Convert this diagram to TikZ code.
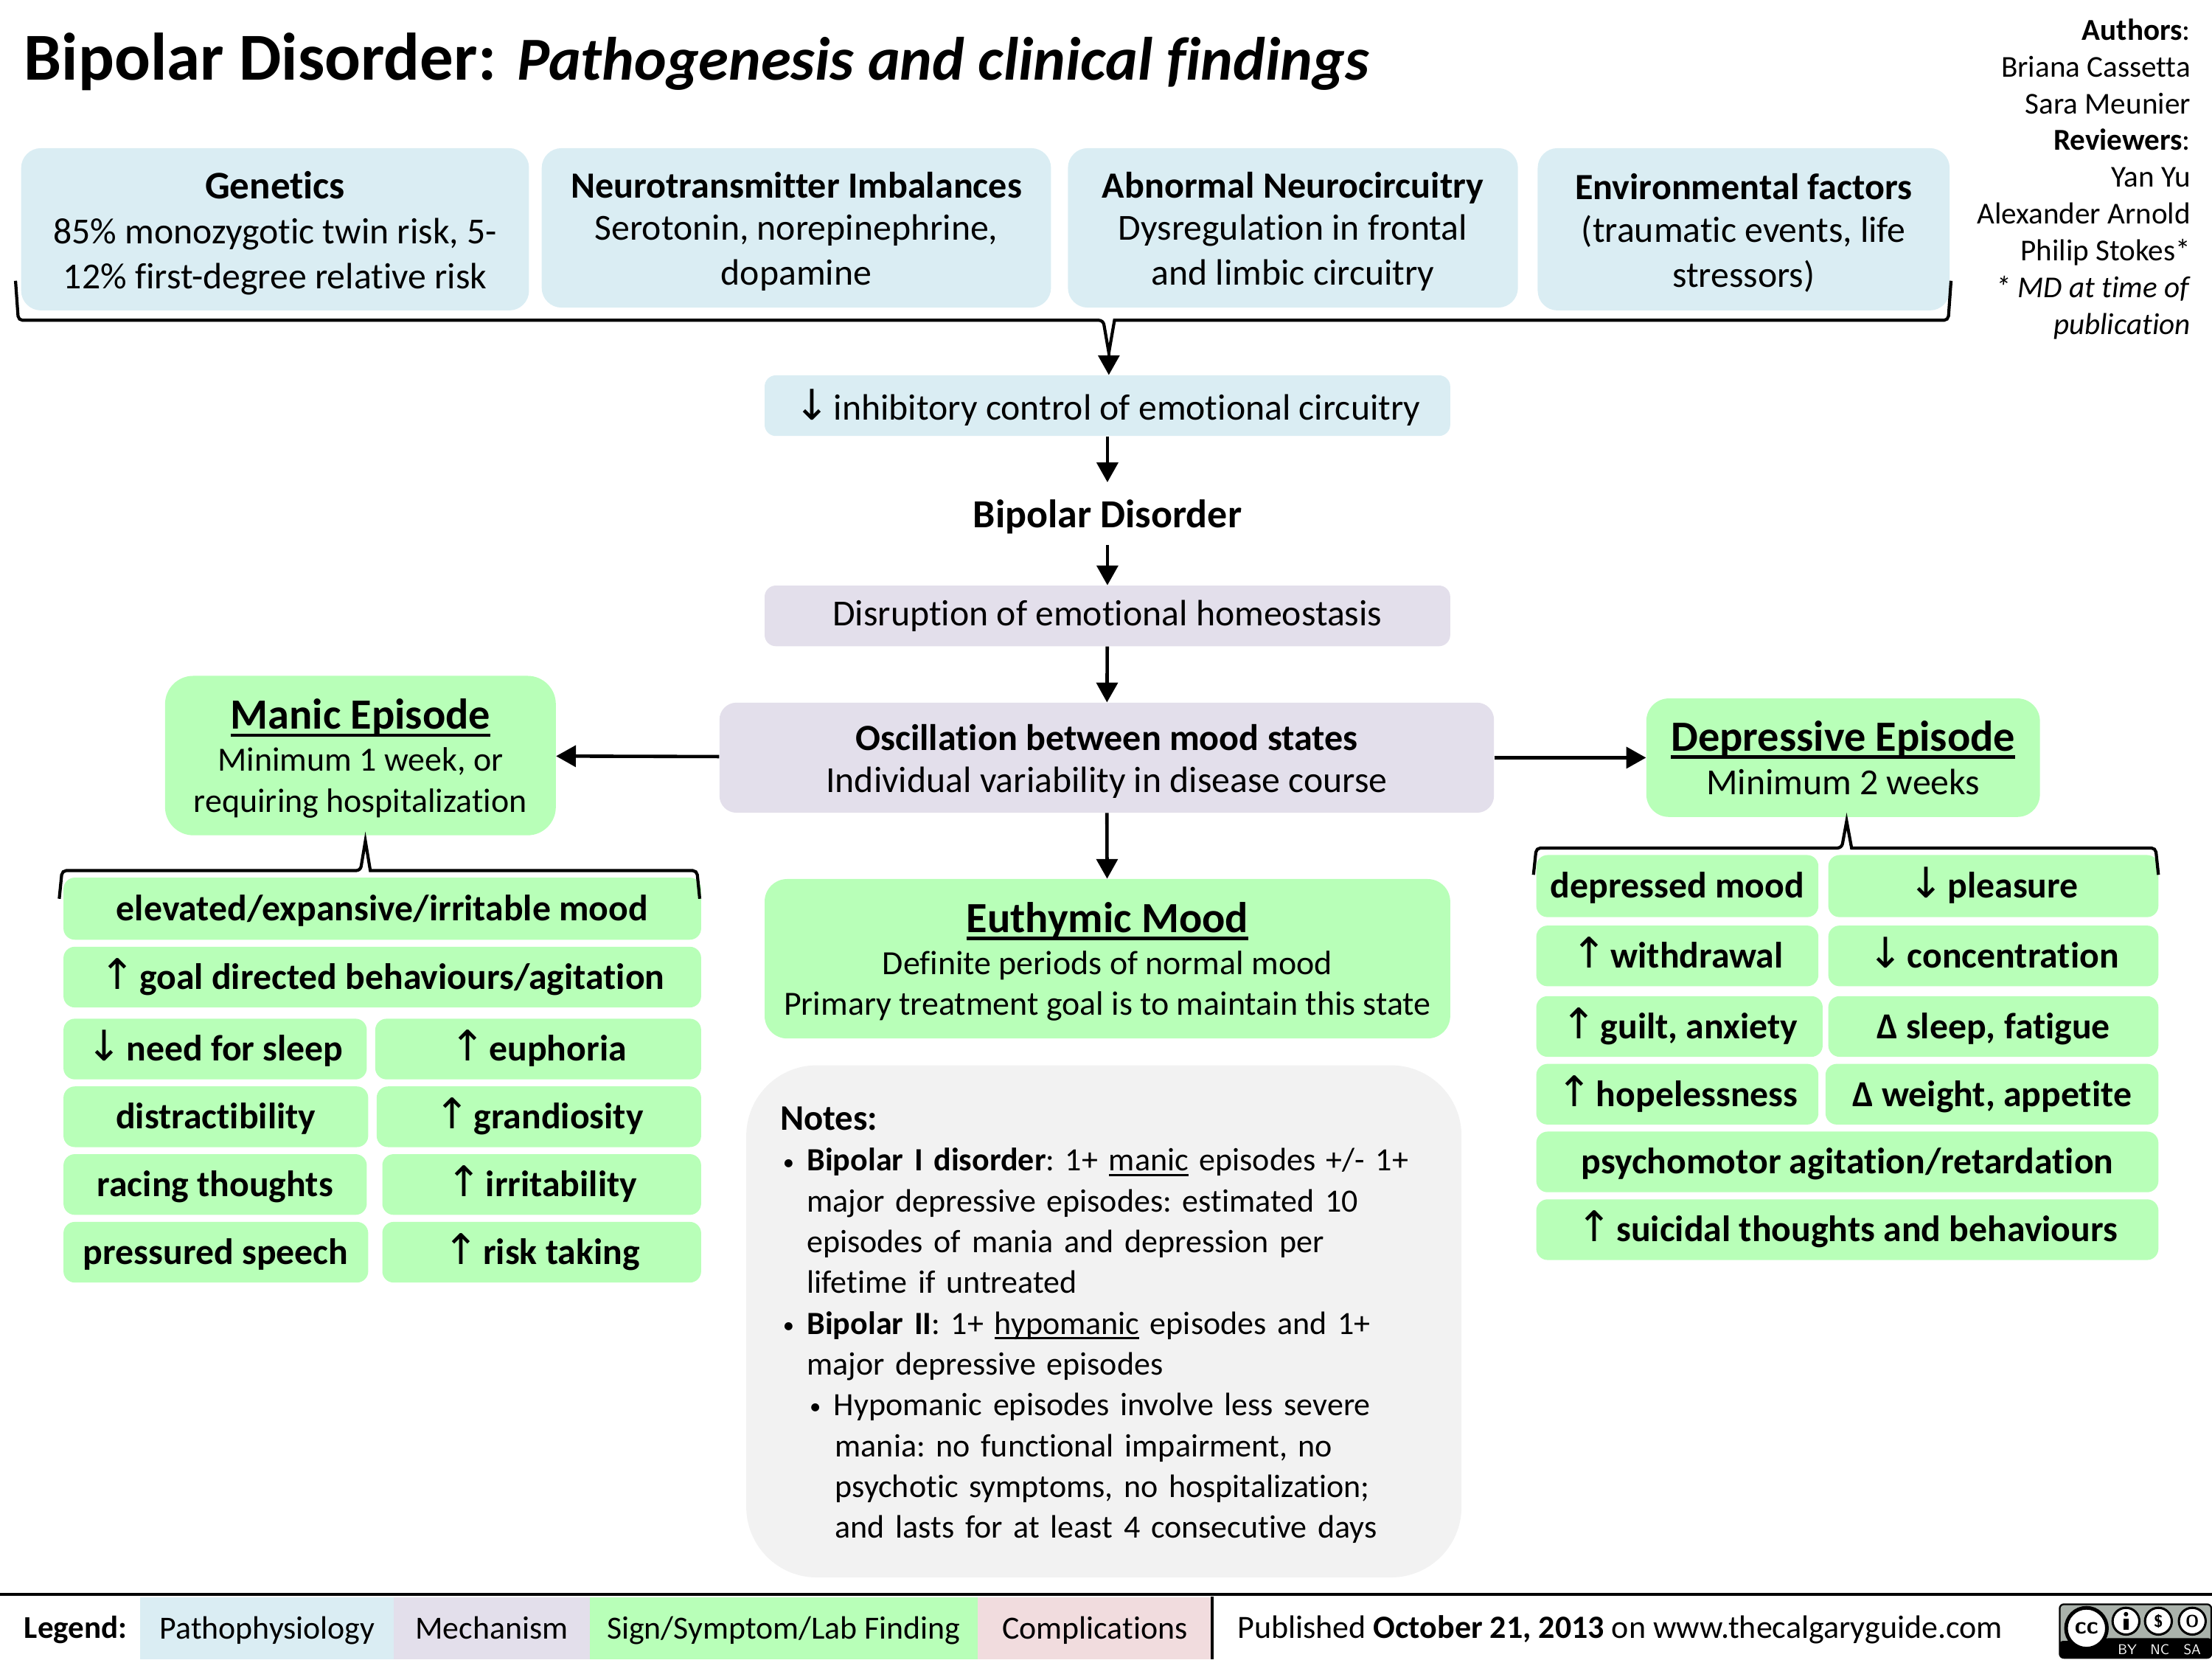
\documentclass[tikz,border=0pt]{standalone}
\usepackage{fontspec}
\setmainfont[Ligatures=NoCommon]{Carlito}
\newfontfamily\arrowfont[Scale=1.15]{DejaVu Sans}
\frenchspacing
\usetikzlibrary{arrows.meta}
\usetikzlibrary{positioning}
\definecolor{pathoblue}{HTML}{DAEDF3}
\definecolor{mechpurple}{HTML}{E3DFEB}
\definecolor{signgreen}{HTML}{B8FFB8}
\definecolor{comppink}{HTML}{F1DCDE}
\definecolor{notegray}{HTML}{F2F2F2}
\definecolor{ccgray}{HTML}{AAB2AB}
\newcommand{\uparr}{{\arrowfont\mdseries ↑}\hspace{-3pt}}
\newcommand{\downarr}{{\arrowfont\mdseries ↓}\hspace{-3pt}}
\newcommand{\hdsmall}[1]{{\fontsize{26.2}{32}\selectfont\bfseries\rule{0pt}{23.5pt}#1}}
\newcommand{\thickul}[2]{\setbox0\hbox{#1}\rlap{\rule[-#2]{\wd0}{2.4pt}}\box0\relax}
\newcommand{\thinul}[1]{\setbox0\hbox{#1}\rlap{\rule[-3.5pt]{\wd0}{1.3pt}}\box0\relax}
\newcommand{\hdbig}[1]{{\fontsize{30.5}{32}\selectfont\bfseries\thickul{#1}{5.5pt}}}
\newcommand{\noteitem}{\makebox[19pt][l]{\hspace*{2pt}\raisebox{1pt}{\fontsize{16}{16}\selectfont\textbullet}}}
\newcommand{\notesub}{\hspace*{19pt}\noteitem}
\tikzset{
	wh/.style 2 args={minimum width=#1,minimum height=#2},
	boxbase/.style={rounded corners=14,inner sep=0,align=center,font=\fontsize{26}{32}\selectfont},
	patho/.style={boxbase,fill=pathoblue},
	mech/.style={boxbase,fill=mechpurple},
	sign/.style={boxbase,fill=signgreen,font=\fontsize{24}{29}\selectfont},
	symptom/.style={inner sep=0,rounded corners=8,fill=signgreen,text height=24pt,text depth=7pt,font=\fontsize{26}{30}\selectfont\bfseries},
	legendbox/.style={inner sep=0,minimum height=44,text height=22pt,text depth=7pt,font=\fontsize{22.9}{28}\selectfont},
	arr/.style={line width=2.4,-{Triangle[length=14pt,width=15pt]}},
	bracket/.style={line width=2.2,rounded corners=3},
	cctext/.style={inner sep=0,text=white,font=\sffamily\fontsize{10}{10}\selectfont}
}
\begin{document}
\begin{tikzpicture}[x=1pt,y=-1pt]
		\useasboundingbox (0,0) rectangle (1568,1176);
		\node [anchor=west,inner sep=0,font=\fontsize{47.6}{50}\selectfont\bfseries] (title) at (17,44) {Bipolar Disorder:\hspace{4pt} {\fontsize{43.3}{50}\selectfont\textit{Pathogenesis and clinical findings}}};
		\node [anchor=north east,inner sep=0,align=right,font=\fontsize{21.5}{26.1}\selectfont] (authors) at (1553,13) {\textbf{Authors}:\\Briana Cassetta\\Sara Meunier\\\textbf{Reviewers}:\\Yan Yu\\Alexander Arnold\\Philip Stokes*\\\textit{* MD at time of}\\\textit{publication}};
		\node [patho,wh={360}{115}] (genetics) at (195,162.5) {{\fontsize{27.7}{32}\selectfont\bfseries\rule{0pt}{25.2pt}Genetics}\\85\% monozygotic twin risk, 5-\\12\% first-degree relative risk};
		\node [patho,wh={361}{113}] (neuro) at (564.5,161.5) {\hdsmall{Neurotransmitter Imbalances}\\[-2pt]Serotonin, norepinephrine,\\dopamine};
		\node [patho,wh={319}{113}] (circuit) at (916.5,161.5) {\hdsmall{Abnormal Neurocircuitry}\\[-2pt]Dysregulation in frontal\\and limbic circuitry};
		\node [patho,wh={292}{115}] (enviro) at (1236,162.5) {\hdsmall{Environmental factors}\\[-2pt](traumatic events, life\\stressors)};
		\node [patho,rounded corners=8,wh={486}{43},execute at begin node={\rule{0pt}{0.95em}}] (inhibit) at (785,287.5) {\downarr{} inhibitory control of emotional circuitry};
		\node [inner sep=0,wh={200}{44},text height=27pt,text depth=7pt,font=\fontsize{28.2}{32}\selectfont\bfseries] (bipolar) at (785,364) {Bipolar Disorder};
		\node [mech,rounded corners=8,wh={486}{43}] (disrupt) at (785,436.5) {Disruption of emotional homeostasis};
		\node [mech,rounded corners=12,wh={549}{78}] (oscill) at (784.5,537) {\hdsmall{Oscillation between mood states}\\[-2pt]Individual variability in disease course};
		\node [sign,rounded corners=20,wh={277}{113}] (manic) at (255.5,535.5) {\rule{0pt}{25.5pt}\hdbig{Manic Episode}\\[1pt]Minimum 1 week, or\\requiring hospitalization};
		\node [sign,rounded corners=16,wh={279}{84}] (depress) at (1306.5,537) {\hdbig{Depressive Episode}\\[2pt]{\fontsize{26}{30}\selectfont Minimum 2 weeks}};
		\node [sign,rounded corners=16,wh={486}{113}] (euthymic) at (785,679.5) {\rule{0pt}{25.5pt}\hdbig{Euthymic Mood}\\[1pt]Definite periods of normal mood\\Primary treatment goal is to maintain this state};
		\node [boxbase,rounded corners=50,fill=notegray,wh={507}{363},text width=459,align=left,font=\fontsize{23}{28.9}\selectfont,execute at begin node={\rule{0pt}{0.95em}}] (notes) at (782.5,936.5) {{\fontsize{25.5}{28.9}\selectfont\bfseries Notes:}\\
			\noteitem\textbf{Bipolar I disorder}: 1+ \thinul{manic} episodes +/- 1+\\
			\hspace*{19pt}major depressive episodes: estimated 10\\
			\hspace*{19pt}episodes of mania and depression per\\
			\hspace*{19pt}lifetime if untreated\\
			\noteitem\textbf{Bipolar II}: 1+ \thinul{hypomanic} episodes and 1+\\
			\hspace*{19pt}major depressive episodes\\
			\notesub Hypomanic episodes involve less severe\\
			\hspace*{39pt}mania: no functional impairment, no\\
			\hspace*{39pt}psychotic symptoms, no hospitalization;\\
			\hspace*{39pt}and lasts for at least 4 consecutive days};
		\node [symptom,wh={452}{44}] (elevated) at (271,644) {elevated/expansive/irritable mood};
		\node [symptom,wh={452}{43}] (goal) at (271,692.5) {\uparr{} goal directed behaviours/agitation};
		\node [symptom,wh={215}{43}] (sleepneed) at (152.5,743.5) {\downarr{} need for sleep};
		\node [symptom,wh={231}{43}] (euphoria) at (381.5,743.5) {\uparr{} euphoria};
		\node [symptom,wh={216}{43}] (distract) at (153,791.5) {distractibility};
		\node [symptom,wh={230}{43}] (grandiose) at (382,791.5) {\uparr{} grandiosity};
		\node [symptom,wh={215}{43}] (racing) at (152.5,839.5) {racing thoughts};
		\node [symptom,wh={226}{43}] (irritable) at (384,839.5) {\uparr{} irritability};
		\node [symptom,wh={216}{43}] (pressured) at (153,887.5) {pressured speech};
		\node [symptom,wh={226}{43}] (risk) at (384,887.5) {\uparr{} risk taking};
		\node [symptom,wh={200}{44}] (depmood) at (1189,628) {depressed mood};
		\node [symptom,wh={234}{44}] (pleasure) at (1413,628) {\downarr{} pleasure};
		\node [symptom,wh={200}{43}] (withdraw) at (1189,677.5) {\uparr{} withdrawal};
		\node [symptom,wh={234}{43}] (concen) at (1413,677.5) {\downarr{} concentration};
		\node [symptom,wh={203}{43}] (guilt) at (1190.5,727.5) {\uparr{} guilt, anxiety};
		\node [symptom,wh={234}{43}] (fatigue) at (1413,727.5) {Δ sleep, fatigue};
		\node [symptom,wh={200}{43}] (hopeless) at (1189,775.5) {\uparr{} hopelessness};
		\node [symptom,wh={236}{43}] (appetite) at (1412,775.5) {Δ weight, appetite};
		\node [symptom,wh={441}{43}] (psycho) at (1309.5,823.5) {psychomotor agitation/retardation};
		\node [symptom,wh={441}{43}] (suicidal) at (1309.5,871.5) {\uparr{} suicidal thoughts and behaviours};
		\coordinate (toptip) at (786,250);
		\draw [bracket] (11,199)--(13,227)--(782,227) [sharp corners]--(toptip)--(790,227) [rounded corners=3]--(1381,227)--(1383,199);
		\draw [arr] (toptip)--(inhibit.north -| toptip);
		\draw [arr] (inhibit)--(bipolar);
		\draw [arr] (bipolar)--(disrupt);
		\draw [arr] (disrupt)--(oscill);
		\draw [arr] (oscill)--(manic);
		\draw [arr] (oscill)--(depress);
		\draw [arr] (oscill)--(euthymic);
		\coordinate (maniclow) at (259,596);
		\draw [bracket] (42,637)--(44,617)--(255.5,617) [sharp corners]--(maniclow)--(262.5,617) [rounded corners=3]--(494,617)--(496,637);
		\coordinate (deplow) at (1309,582);
		\draw [bracket] (1087,620)--(1089,601)--(1305.5,601) [sharp corners]--(deplow)--(1312.5,601) [rounded corners=3]--(1528,601)--(1530,620);
		\draw [line width=2.2] (0,1130)--(1568,1130);
		\node [anchor=base west,inner sep=0,font=\fontsize{22.5}{28}\selectfont\bfseries] (legend) at (17,1161) {Legend:};
		\node [legendbox,fill=pathoblue,minimum width=180] (lgpatho) at (189.5,1154) {Pathophysiology};
		\node [legendbox,fill=mechpurple,minimum width=139] (lgmech) at (348.5,1154) {Mechanism};
		\node [legendbox,fill=signgreen,minimum width=275] (lgsign) at (555.5,1154) {Sign/Symptom/Lab Finding};
		\node [legendbox,fill=comppink,minimum width=166] (lgcomp) at (776,1154) {Complications};
		\draw [line width=2.2] (lgcomp.north east)--(lgcomp.south east);
		\node [anchor=base west,inner sep=0,font=\fontsize{23}{28}\selectfont] (published) at (877,1161) {Published \textbf{October 21, 2013} on www.thecalgaryguide.com};
		\draw [fill=ccgray,line width=1.2,rounded corners=3] (1460,1137) rectangle (1567.5,1175);
		\fill [black,rounded corners=2] (1495,1161)--(1567.5,1161)--(1567.5,1175)--(1460,1175)--(1460,1163)--(1465,1163)--cycle;
		\node [circle,draw,fill=white,line width=2.6,minimum size=29,inner sep=0,font=\sffamily\bfseries\fontsize{17}{17}\selectfont] (ccmark) at (1479,1154) {cc};
		\node [circle,draw,fill=white,line width=1.6,minimum size=19,inner sep=0] (ccby) at (1507,1149) {};
		\node [circle,draw,fill=white,line width=1.6,minimum size=19,inner sep=0,font=\sffamily\bfseries\fontsize{12}{12}\selectfont] (ccnc) at (1530,1149) {\$};
		\node [circle,draw,fill=white,line width=1.6,minimum size=19,inner sep=0,font=\sffamily\bfseries\fontsize{12}{12}\selectfont] (ccsa) at (1554,1149) {O};
		\fill (1507,1144) circle (1.6);
		\fill (1505,1147) rectangle (1509,1155);
		\node [cctext] (ccbytext) at (1508,1169) {BY};
		\node [cctext] (ccnctext) at (1531,1169) {NC};
		\node [cctext] (ccsatext) at (1554,1169) {SA};
		\end{tikzpicture}
\end{document}
